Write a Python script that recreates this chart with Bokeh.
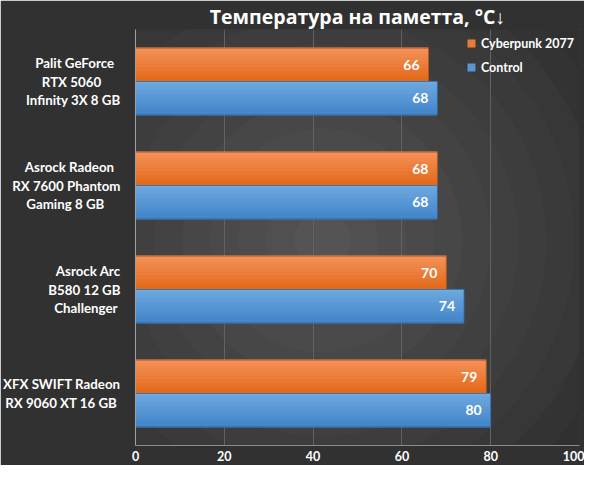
import numpy as np
from bokeh.plotting import figure
from bokeh.models import (Range1d, ColumnDataSource, LabelSet, Legend, LegendItem,
                          FixedTicker, PolyAnnotation)
from bokeh.core.properties import value
from bokeh.embed import file_html
from bokeh.resources import INLINE

# ---- data ----
cards = ["Palit GeForce\nRTX 5060\nInfinity 3X 8 GB",
         "Asrock Radeon\nRX 7600 Phantom\nGaming 8 GB",
         "Asrock Arc\nB580 12 GB\nChallenger",
         "XFX SWIFT Radeon\nRX 9060 XT 16 GB"]
cyberpunk = [66, 68, 70, 79]
control = [68, 68, 74, 80]
series_names = ["Cyberpunk 2077", "Control"]
x_ticks = [0, 20, 40, 60, 80, 100]
title_text = "Температура на паметта, °C↓"

W, H = 584, 465
BL, BR, BT, BB = 127, 5, 22, 20

n = len(cards)
pos = [n - 1 - i for i in range(n)]
bar_h = 0.32

p = figure(width=W, height=H, output_backend="svg", toolbar_location=None,
           x_range=Range1d(0, 100), y_range=Range1d(-0.5, n - 0.5),
           min_border_left=BL, min_border_right=BR, min_border_top=BT, min_border_bottom=BB)
p.background_fill_color = "#2a2a2a"
p.border_fill_color = "#313131"
p.outline_line_color = "#8c8c8c"
p.outline_line_width = 1

# ---- title ----
p.title.text = title_text
p.title.align = "center"
p.title.text_color = "white"
p.title.text_font = "Open Sans"
p.title.text_font_style = "bold"
p.title.text_font_size = "19.5px"
p.title.text_line_height = 0.85
p.title.standoff = 0
p.title.offset = 0

# ---- radial ring background (decoration) ----
cx, cy = 322, 240
n_rings = 15
step = 28
t = np.linspace(0, 2 * np.pi, 160)
c_out = np.array([0x27, 0x27, 0x27])
c_in = np.array([0x54, 0x54, 0x54])
for k in range(n_rings, 0, -1):
    r = k * step
    f = (k - 1) / (n_rings - 1)
    c = (c_in + (c_out - c_in) * f).astype(int)
    col = "#%02x%02x%02x" % tuple(c)
    poly = PolyAnnotation(xs=list(cx + r * np.cos(t)), ys=list(cy + r * np.sin(t)),
                          xs_units="canvas", ys_units="canvas",
                          fill_color=col, fill_alpha=1.0, line_color=None, level="image")
    p.add_layout(poly)

# ---- bars with vertical gradient ----
src = ColumnDataSource(dict(pos=pos, cyb=cyberpunk, ctl=control,
                            y_cyb=[v + bar_h / 2 for v in pos],
                            y_ctl=[v - bar_h / 2 for v in pos]))

def mix(a, b, f):
    a = np.array([int(a[i:i + 2], 16) for i in (1, 3, 5)])
    b = np.array([int(b[i:i + 2], 16) for i in (1, 3, 5)])
    c = (a + (b - a) * f).astype(int)
    return "#%02x%02x%02x" % tuple(c)

nb = 10
legend_rs = []
for col_key, ykey, top, bot, edge in [("cyb", "y_cyb", "#f49158", "#e46b1b", "#b8561a"),
                                       ("ctl", "y_ctl", "#6ea9e0", "#4587cb", "#32669c")]:
    mid_r = None
    yvals = src.data[ykey]
    for k in range(nb):
        off = bar_h / 2 - (k + 0.5) * bar_h / nb
        s = ColumnDataSource(dict(y=[v + off for v in yvals], r=src.data[col_key]))
        rr = p.hbar(y="y", right="r", left=0, height=bar_h / nb + 0.012, source=s,
                    fill_color=mix(top, bot, k / (nb - 1)), line_color=None)
        if k == nb // 2:
            mid_r = rr
    p.hbar(y=ykey, right=col_key, left=0, height=bar_h, source=src,
           fill_alpha=0, line_color=edge, line_width=1, line_alpha=0.8)
    legend_rs.append(mid_r)

# ---- value labels ----
for col_key, ykey in [("cyb", "y_cyb"), ("ctl", "y_ctl")]:
    lsrc = ColumnDataSource(dict(x=src.data[col_key], y=src.data[ykey],
                                 t=[str(v) for v in src.data[col_key]]))
    p.add_layout(LabelSet(x="x", y="y", text="t", source=lsrc, x_offset=-9,
                          text_align="right", text_baseline="middle",
                          text_color="white", text_font=value("Lato"), text_font_style="bold",
                          text_font_size="14px"))

# ---- category labels: centre each line inside its block (padding with no-break spaces) ----
def est_width(s):
    w = 0
    for ch in s:
        if ch in " ilIjtf1.":
            w += 3.4
        elif ch in "r":
            w += 4.6
        elif ch.isupper():
            w += 8.0
        elif ch.isdigit():
            w += 7.2
        else:
            w += 6.5
    return w

NBSP_W = 2.6

def centre_block(label):
    lines = label.split("\n")
    wmax = max(est_width(l) for l in lines)
    out = []
    for l in lines:
        k = int(round((wmax - est_width(l)) / 2 / NBSP_W))
        out.append(l + "\u00a0" * k)
    return "\n".join(out)

# ---- axes ----
p.xaxis.ticker = FixedTicker(ticks=x_ticks)
p.xaxis.major_tick_line_color = None
p.xaxis.minor_tick_line_color = None
p.xaxis.major_tick_out = 0
p.xaxis.major_tick_in = 0
p.xaxis.axis_line_color = "#8c8c8c"
p.xaxis.major_label_text_color = "white"
p.xaxis.major_label_text_font = "Lato"
p.xaxis.major_label_text_font_style = "bold"
p.xaxis.major_label_text_font_size = "12.5px"
p.xaxis.major_label_text_line_height = 1.0
p.xaxis.major_label_standoff = 5

p.yaxis.ticker = FixedTicker(ticks=pos)
p.yaxis.major_label_overrides = {pv: centre_block(c) for pv, c in zip(pos, cards)}
p.yaxis.axis_line_color = "#a0a0a0"
p.yaxis.major_tick_line_color = None
p.yaxis.minor_tick_line_color = None
p.yaxis.major_tick_out = 0
p.yaxis.major_tick_in = 0
p.yaxis.major_label_standoff = 15
p.yaxis.major_label_text_color = "white"
p.yaxis.major_label_text_font = "Lato"
p.yaxis.major_label_text_font_style = "bold"
p.yaxis.major_label_text_font_size = "13.3px"
p.yaxis.major_label_text_line_height = 1.13

p.xgrid.grid_line_color = "#626262"
p.xgrid.grid_line_width = 1
p.ygrid.grid_line_color = None

# ---- legend ----
legend = Legend(items=[LegendItem(label=series_names[0], renderers=[legend_rs[0]]),
                       LegendItem(label=series_names[1], renderers=[legend_rs[1]])],
                location="top_right", margin=0, padding=5, spacing=6,
                glyph_width=10, glyph_height=10, label_height=18, label_standoff=5,
                label_text_color="white", label_text_font="Lato",
                label_text_font_style="bold", label_text_font_size="12.5px",
                background_fill_alpha=0, border_line_alpha=0)
p.add_layout(legend)

open("out.html", "w").write(file_html(p, INLINE))
